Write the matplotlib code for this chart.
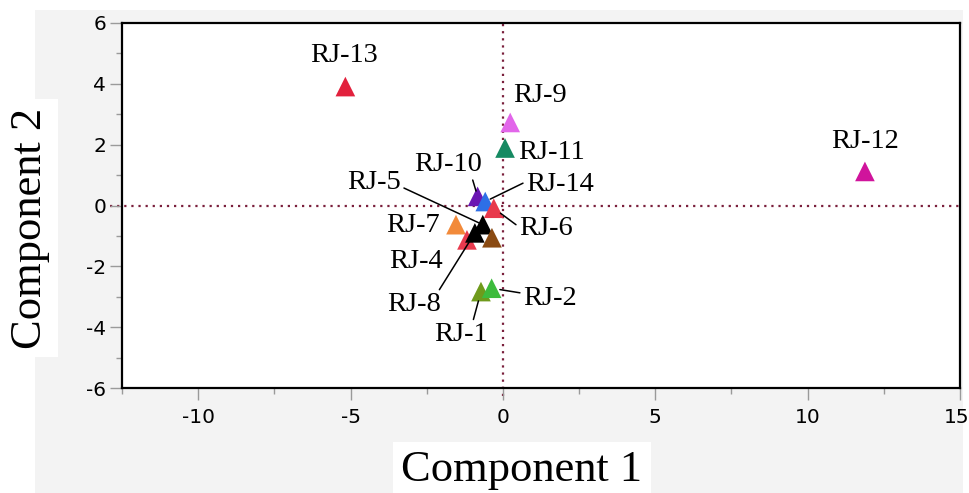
import matplotlib
matplotlib.use("Agg")
import matplotlib.pyplot as plt
import matplotlib.transforms as mtransforms
from matplotlib.patches import Rectangle
from matplotlib.ticker import MultipleLocator

# ---------------- data ----------------
samples = ["RJ-1", "RJ-2", "RJ-3", "RJ-4", "RJ-5", "RJ-6", "RJ-7",
           "RJ-8", "RJ-9", "RJ-10", "RJ-11", "RJ-12", "RJ-13", "RJ-14"]
comp1 = [-0.72, -0.37, -0.36, -1.18, -0.66, -0.30, -1.54,
         -0.92, 0.24, -0.83, 0.07, 11.88, -5.17, -0.58]
comp2 = [-2.83, -2.72, -1.06, -1.13, -0.63, -0.09, -0.63,
         -0.90, 2.73, 0.30, 1.89, 1.12, 3.91, 0.13]
show_label = [True, True, False, True, True, True, True,
              True, True, True, True, True, True, True]

x_ticks = [-10, -5, 0, 5, 10, 15]
y_ticks = [-6, -4, -2, 0, 2, 4, 6]

# ---------------- styles / layout ----------------
colors = {
    "RJ-1": "#6f9a1c", "RJ-2": "#3dbb3d", "RJ-3": "#8a4a12", "RJ-4": "#e83a4e",
    "RJ-5": "#000000", "RJ-6": "#e8394c", "RJ-7": "#f28a3a", "RJ-8": "#000000",
    "RJ-9": "#e266ea", "RJ-10": "#6a17b2", "RJ-11": "#168a62", "RJ-12": "#d0149c",
    "RJ-13": "#e2213d", "RJ-14": "#2e6fe6",
}
draw_order = ["RJ-7", "RJ-4", "RJ-5", "RJ-8", "RJ-3", "RJ-10", "RJ-14", "RJ-6",
              "RJ-1", "RJ-2", "RJ-9", "RJ-11", "RJ-12", "RJ-13"]

# label text position (data coords), horizontal alignment, leader relpos (None = no leader), shrinkB
label_layout = {
    "RJ-13": ((-5.20, 4.92), "center", None, 0),
    "RJ-9":  ((1.22, 3.61), "center", None, 0),
    "RJ-11": ((0.49, 1.73), "left", None, 0),
    "RJ-12": ((11.87, 2.11), "center", None, 0),
    "RJ-10": ((-1.81, 1.34), "center", (0.85, 0.05), 4),
    "RJ-14": ((0.75, 0.68), "left", (0.0, 0.62), 4),
    "RJ-5":  ((-4.22, 0.74), "center", (1.0, 0.35), 3),
    "RJ-6":  ((0.52, -0.74), "left", (0.0, 0.55), 6),
    "RJ-7":  ((-2.96, -0.67), "center", None, 0),
    "RJ-4":  ((-2.85, -1.84), "center", None, 0),
    "RJ-8":  ((-2.91, -3.27), "center", (0.92, 0.95), 7),
    "RJ-1":  ((-1.38, -4.25), "center", (0.72, 1.0), 7),
    "RJ-2":  ((0.65, -3.05), "left", (0.0, 0.7), 6),
}

W, H = 970, 493
fig = plt.figure(figsize=(W / 100, H / 100), dpi=100, facecolor="white")
# light grey panel behind the plot
fig.patches.append(Rectangle((35 / W, 0), (963 - 35) / W, (H - 10) / H,
                             transform=fig.transFigure, facecolor="#f3f3f3",
                             edgecolor="none", zorder=-10))

ax = fig.add_axes([122 / W, (H - 388) / H, (960 - 122) / W, (388 - 23) / H])
ax.set_facecolor("white")
ax.set_xlim(-12.5, 15)
ax.set_ylim(-6, 6)

ref_color = "#7a1f3c"
ax.axhline(0, xmin=-0.014, xmax=1, color=ref_color, lw=1.6,
           ls=(0, (1, 2.2)), zorder=1, clip_on=False)
ax.axvline(0, ymin=-0.022, ymax=1, color=ref_color, lw=1.6,
           ls=(0, (1, 2.2)), zorder=1, clip_on=False)

idx = {s: i for i, s in enumerate(samples)}
for z, s in enumerate(draw_order):
    i = idx[s]
    ax.scatter([comp1[i]], [comp2[i]], marker="^", s=200, color=colors[s],
               edgecolors="none", zorder=3 + z * 0.01)

for s, (pos, ha, relpos, shrinkB) in label_layout.items():
    i = idx[s]
    if not show_label[i]:
        continue
    kw = {}
    if relpos is not None:
        kw["arrowprops"] = dict(arrowstyle="-", color="black", lw=1.1,
                                shrinkA=0, shrinkB=shrinkB, relpos=relpos)
    ax.annotate(s, xy=(comp1[i], comp2[i]), xytext=pos, textcoords="data",
                ha=ha, va="center", fontsize=20.5,
                family=["Liberation Serif", "DejaVu Serif"], color="black",
                zorder=4, **kw)

ax.set_xticks(x_ticks)
ax.set_yticks(y_ticks)
ax.set_xticklabels([str(t) for t in x_ticks], fontsize=14.5,
                   family=["DejaVu Sans"])
ax.set_yticklabels([str(t) for t in y_ticks], fontsize=14.5,
                   family=["DejaVu Sans"])
ax.xaxis.set_minor_locator(MultipleLocator(2.5))
ax.yaxis.set_minor_locator(MultipleLocator(1))
ax.tick_params(which="major", direction="out", length=8.5, width=1.0,
               color="#9a9a9a", pad=3)
ax.tick_params(which="minor", direction="out", length=4, width=1.0,
               color="#9a9a9a")
ax.tick_params(axis="x", which="major", pad=6)
for sp in ax.spines.values():
    sp.set_linewidth(1.6)
    sp.set_color("black")

# keep the last x tick label inside the figure edge
last = ax.get_xticklabels()[-1]
last.set_horizontalalignment("right")
last.set_transform(last.get_transform() +
                   mtransforms.ScaledTranslation(9 / 100, 0, fig.dpi_scale_trans))

fig.text(522 / W, 1 - 470 / H, "Component 1", ha="center", va="center",
         fontsize=32, family=["Liberation Serif", "DejaVu Serif"],
         bbox=dict(facecolor="white", edgecolor="none", pad=6))
fig.text(30 / W, 1 - 228 / H, "Component 2", ha="center", va="center",
         rotation=90, fontsize=32, family=["Liberation Serif", "DejaVu Serif"],
         bbox=dict(facecolor="white", edgecolor="none", pad=6))

fig.savefig("out.png", dpi=100, facecolor=fig.get_facecolor())
